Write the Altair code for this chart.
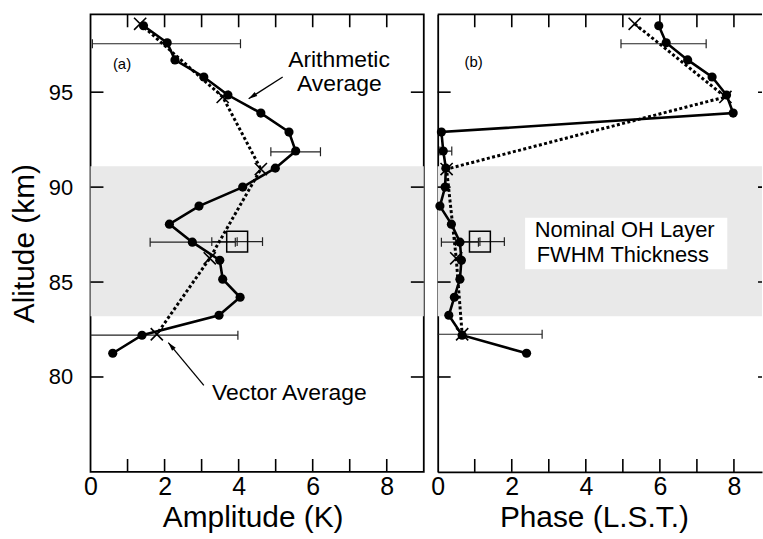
import altair as alt
import pandas as pd

FONT = "Liberation Sans"
BAND = "#e9e9e9"

# ---------------- data ----------------
altitude = [98.5, 97.6, 96.7, 95.8, 94.85, 93.9, 92.9, 91.9, 91.0, 90.0,
            89.0, 88.05, 87.1, 86.15, 85.15, 84.2, 83.25, 82.2, 81.25]
amp_arith = [1.43, 2.07, 2.28, 3.06, 3.71, 4.60, 5.36, 5.54, 4.99, 4.11,
             2.93, 2.13, 2.75, 3.49, 3.57, 4.04, 3.47, 1.39, 0.60]
phase_arith = [5.97, 6.17, 6.75, 7.41, 7.80, 7.98, 0.10, 0.15, 0.22, 0.20,
               0.06, 0.37, 0.60, 0.64, 0.60, 0.45, 0.30, 0.66, 2.40]

vec_altitude = [98.6, 94.75, 90.95, 86.25, 82.25]
amp_vector = [1.34, 3.57, 4.60, 3.22, 1.79]
phase_vector = [5.32, 7.77, 0.24, 0.50, 0.66]

# error bars: altitude, centre, half width
err_alt_a = [97.55, 91.86, 87.1, 82.2]
err_ctr_a = [2.05, 5.54, 2.76, 1.79]
err_half_a = [2.00, 0.67, 1.15, 2.19]
err_alt_b = [97.55, 91.9, 87.1, 82.25]
err_ctr_b = [6.10, 0.22, 0.60, 0.66]
err_half_b = [1.15, 0.16, 0.50, 2.16]

# layer-mean (box) markers with their error bars
box_alt = [87.13]
box_amp = [3.96]
box_amp_half = [0.685]
box_phase = [1.14]
box_phase_half = [0.66]

# nominal OH layer FWHM
layer_bottom = [83.2]
layer_top = [91.1]

# axis ticks / labels
x_labels = [0, 2, 4, 6, 8]
x_minor = [1, 2, 3, 4, 5, 6, 7, 8]
y_labels = [80, 85, 90, 95]

# annotations
text_a = ["(a)", "Arithmetic", "Average", "Vector Average"]
text_a_x = [0.85, 6.71, 6.72, 5.37]
text_a_y = [96.5, 96.69, 95.43, 79.14]
text_a_size = [15, 23, 23, 23]
text_b = ["(b)", "Nominal OH Layer", "FWHM Thickness"]
text_b_x = [0.97, 5.05, 5.0]
text_b_y = [96.59, 87.73, 86.42]
text_b_size = [15, 22, 22]
label_box_x = [2.36, 7.82]
label_box_y = [85.67, 88.38]

arrow_x0 = [5.19, 3.06]
arrow_y0 = [95.8, 79.56]
arrow_x1 = [4.27, 2.10]
arrow_y1 = [94.65, 81.81]
arrow_angle = [237, 320]

# ---------------- geometry ----------------
H = 460
W_A = 335
PX = W_A / 9.0
W_B = 326
XA_DOM = [0, 9]
XB_DOM = [0, W_B / PX]
Y_DOM = [75, 99.1]

ysc = alt.Scale(domain=Y_DOM, nice=False, zero=False)

line_df_a = pd.DataFrame({"x": amp_arith, "alt": altitude, "i": range(len(altitude))})
line_df_b = pd.DataFrame({"x": phase_arith, "alt": altitude, "i": range(len(altitude))})
vec_df_a = pd.DataFrame({"x": amp_vector, "alt": vec_altitude, "i": range(len(vec_altitude))})
vec_df_b = pd.DataFrame({"x": phase_vector, "alt": vec_altitude, "i": range(len(vec_altitude))})


def err_frames(alts, ctrs, halves, balt, bctr, bhalf):
    rows, caps = [], []
    for a, c, h in zip(alts, ctrs, halves):
        rows.append({"alt": a, "lo": c - h, "hi": c + h})
        caps += [{"alt": a, "x": c - h}, {"alt": a, "x": c + h}]
    for a, c, h in zip(balt, bctr, bhalf):
        rows.append({"alt": a, "lo": c - h, "hi": c + h})
        caps += [{"alt": a, "x": c - h}, {"alt": a, "x": c + h}, {"alt": a, "x": c}]
    return pd.DataFrame(rows), pd.DataFrame(caps)


err_a, caps_a = err_frames(err_alt_a, err_ctr_a, err_half_a, box_alt, box_amp, box_amp_half)
err_b, caps_b = err_frames(err_alt_b, err_ctr_b, err_half_b, box_alt, box_phase, box_phase_half)
box_df_a = pd.DataFrame({"x": box_amp, "alt": box_alt})
box_df_b = pd.DataFrame({"x": box_phase, "alt": box_alt})
band_df = pd.DataFrame({"lo": layer_bottom, "hi": layer_top})
txt_a = pd.DataFrame({"t": text_a, "x": text_a_x, "alt": text_a_y, "fs": text_a_size})
txt_b = pd.DataFrame({"t": text_b, "x": text_b_x, "alt": text_b_y, "fs": text_b_size})
lbox_df = pd.DataFrame({"x0": [label_box_x[0]], "x1": [label_box_x[1]],
                        "y0": [label_box_y[0]], "y1": [label_box_y[1]]})
arrow_df = pd.DataFrame({"x0": arrow_x0, "y0": arrow_y0, "x1": arrow_x1, "y1": arrow_y1,
                         "ang": arrow_angle})
xt_df = pd.DataFrame({"v": x_minor})
yt_df = pd.DataFrame({"v": y_labels})

XMARK = "M-1,-1L1,1M-1,1L1,-1"
CAP = "M0,-1L0,1"
HEAD = "M0,0L0.6,2.2L-0.6,2.2Z"
TL = 13


def panel(line_df, vec_df, err_df, caps_df, box_df, txt_df, xdom, width,
          x_title, title_x, left, extra):
    xsc = alt.Scale(domain=xdom, nice=False, zero=False)
    x_axis = alt.Axis(values=x_labels, ticks=False, grid=False, domain=not left,
                      title=x_title, titleX=title_x, labelPadding=3, titlePadding=3,
                      labelFontSize=25, labelFlush=False)
    if left:
        y_axis = alt.Axis(values=y_labels, ticks=False, grid=False, domain=False,
                          title="Alitude (km)", labelPadding=18, titlePadding=9)
    else:
        y_axis = alt.Axis(values=y_labels, ticks=False, grid=False, domain=True,
                          labels=False, title=None)

    def X(f):
        return alt.X(f, type="quantitative", scale=xsc, axis=x_axis)

    def Y(f):
        return alt.Y(f, type="quantitative", scale=ysc, axis=y_axis)

    layers = []
    layers.append(alt.Chart(line_df).mark_line(opacity=0).encode(
        x=X("x"), y=Y("alt"), order="i:Q"))
    layers.append(alt.Chart(band_df).mark_rect(color=BAND).encode(
        y=Y("lo"), y2="hi", x=alt.value(0), x2=alt.value(width)))
    layers += extra(X, Y)
    layers.append(alt.Chart(err_df).mark_rule(color="#222", strokeWidth=1.2, clip=True).encode(
        x=X("lo"), x2="hi", y=Y("alt")))
    layers.append(alt.Chart(caps_df).mark_point(shape=CAP, size=81, strokeWidth=1.2, color="#222",
                                                filled=False, opacity=1, clip=True).encode(
        x=X("x"), y=Y("alt")))
    layers.append(alt.Chart(vec_df).mark_line(color="black", strokeWidth=3, strokeDash=[3, 2.4],
                                              clip=True).encode(
        x=X("x"), y=Y("alt"), order="i:Q"))
    layers.append(alt.Chart(line_df).mark_line(color="black", strokeWidth=2.6, clip=True).encode(
        x=X("x"), y=Y("alt"), order="i:Q"))
    layers.append(alt.Chart(line_df).mark_circle(color="black", size=85, opacity=1).encode(
        x=X("x"), y=Y("alt")))
    layers.append(alt.Chart(vec_df).mark_point(shape=XMARK, size=150, strokeWidth=1.6, color="black",
                                               filled=False, opacity=1).encode(
        x=X("x"), y=Y("alt")))
    layers.append(alt.Chart(box_df).mark_point(shape="square", size=441, strokeWidth=1.5,
                                               color="black", filled=False, opacity=1).encode(
        x=X("x"), y=Y("alt")))
    layers.append(alt.Chart(txt_df).mark_text(font=FONT, color="black", baseline="middle",
                                              align="center").encode(
        x=X("x"), y=Y("alt"), text="t:N", size=alt.Size("fs:Q", scale=None, legend=None)))
    # ticks pointing inward
    layers.append(alt.Chart(xt_df).mark_rule(color="black", strokeWidth=1.6).encode(
        x=X("v"), y=alt.value(0), y2=alt.value(TL)))
    layers.append(alt.Chart(xt_df).mark_rule(color="black", strokeWidth=1.6).encode(
        x=X("v"), y=alt.value(H), y2=alt.value(H - TL)))
    layers.append(alt.Chart(yt_df).mark_rule(color="black", strokeWidth=1.6).encode(
        y=Y("v"), x=alt.value(0), x2=alt.value(TL)))
    if left:
        layers.append(alt.Chart(yt_df).mark_rule(color="black", strokeWidth=1.6).encode(
            y=Y("v"), x=alt.value(width), x2=alt.value(width - TL)))
    else:
        full = 9 * PX
        layers.append(alt.Chart(yt_df).mark_rule(color="black", strokeWidth=1.6, clip=True).encode(
            y=Y("v"), x=alt.value(full), x2=alt.value(full - TL)))
        layers.append(alt.Chart(band_df).mark_rule(color="black", strokeWidth=1.8).encode(
            y=alt.value(0), x=alt.value(0), x2=alt.value(width)))

    ch = alt.layer(*layers).properties(width=width, height=H)
    if left:
        ch = ch.properties(view=alt.ViewBackground(stroke="black", strokeWidth=1.8))
    return ch


def extra_a(X, Y):
    return [
        alt.Chart(arrow_df).mark_rule(color="black", strokeWidth=1.3).encode(
            x=X("x0"), y=Y("y0"), x2="x1", y2="y1"),
        alt.Chart(arrow_df).mark_point(shape=HEAD, size=64, filled=True, color="black",
                                       opacity=1).encode(
            x=X("x1"), y=Y("y1"), angle=alt.Angle("ang:Q", scale=None)),
    ]


def extra_b(X, Y):
    return [
        alt.Chart(lbox_df).mark_rect(color="white").encode(
            x=X("x0"), x2="x1", y=Y("y0"), y2="y1"),
    ]


pa = panel(line_df_a, vec_df_a, err_a, caps_a, box_df_a, txt_a, XA_DOM, W_A,
           "Amplitude (K)", 163, True, extra_a)
pb = panel(line_df_b, vec_df_b, err_b, caps_b, box_df_b, txt_b, XB_DOM, W_B,
           "Phase (L.S.T.)", 157, False, extra_b)

chart = alt.hconcat(pa, pb, spacing=5).properties(
    padding={"left": 8, "top": 11, "right": 0, "bottom": 0},
    background="white",
).configure_view(stroke=None).configure_axis(
    labelFont=FONT, titleFont=FONT, labelFontSize=22, titleFontSize=30,
    titleFontWeight="normal", labelColor="black", titleColor="black",
    domainColor="black", domainWidth=1.8,
)

chart.save("out.html", embed_options={"renderer": "svg", "actions": False})
